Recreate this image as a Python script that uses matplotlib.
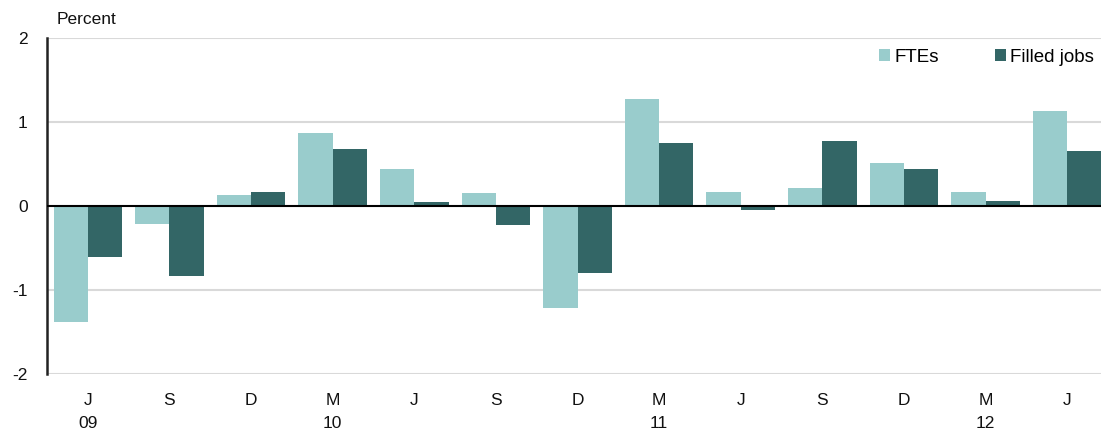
import numpy as np
import matplotlib
matplotlib.use("Agg")
import matplotlib.pyplot as plt

plt.rcParams['font.family'] = ['Liberation Sans', 'DejaVu Sans']

quarters = ["J\n09", "S", "D", "M\n10", "J", "S", "D", "M\n11", "J", "S", "D", "M\n12", "J"]
ftes = [-1.38, -0.21, 0.13, 0.87, 0.44, 0.15, -1.21, 1.27, 0.17, 0.22, 0.51, 0.17, 1.13]
filled_jobs = [-0.61, -0.83, 0.17, 0.68, 0.05, -0.23, -0.80, 0.75, -0.05, 0.77, 0.44, 0.06, 0.65]

FTE_COLOR = "#99CCCC"
JOBS_COLOR = "#336666"

fig = plt.figure(figsize=(11.01, 4.32), dpi=100)
ax = fig.add_axes([47 / 1101, 1 - 374 / 432, 1061 / 1101, 336 / 432])

x = np.arange(len(quarters))
w = 0.42
ax.bar(x - w / 2, ftes, w, color=FTE_COLOR, label="FTEs", zorder=3)
ax.bar(x + w / 2, filled_jobs, w, color=JOBS_COLOR, label="Filled jobs", zorder=3)

ax.set_xlim(-0.5, len(quarters) - 0.5)
ax.set_ylim(-2, 2)
ax.set_yticks([-2, -1, 0, 1, 2])
ax.set_yticklabels(["-2", "-1", "0", "1", "2"])
ax.set_xticks(x)
ax.set_xticklabels(quarters, linespacing=1.6)

for yv in [-2, -1, 1, 2]:
    ax.axhline(yv, color="#D9D9D9", linewidth=1.5, zorder=1)
ax.axhline(0, color="black", linewidth=1.5, zorder=4)

for s in ["top", "right", "bottom"]:
    ax.spines[s].set_visible(False)
ax.spines["left"].set_linewidth(1.8)
ax.spines["left"].set_color("#222222")

ax.tick_params(axis="both", length=0, labelsize=12.5, colors="#111111")
ax.tick_params(axis="y", pad=14)
ax.tick_params(axis="x", pad=14)
for lbl in ax.get_yticklabels():
    lbl.set_horizontalalignment("right")

fig.text(57 / 1101, 1 - 20 / 432, "Percent", fontsize=12.5, va="center", ha="left", color="#111111")

fig.legend(loc="center left", bbox_to_anchor=(879 / 1101, 1 - 57 / 432), ncol=2, frameon=False,
           fontsize=13.5, handlelength=0.6, handleheight=0.6, handletextpad=0.2,
           columnspacing=3.0, borderaxespad=0, borderpad=0)

fig.savefig("out.png", dpi=100)
